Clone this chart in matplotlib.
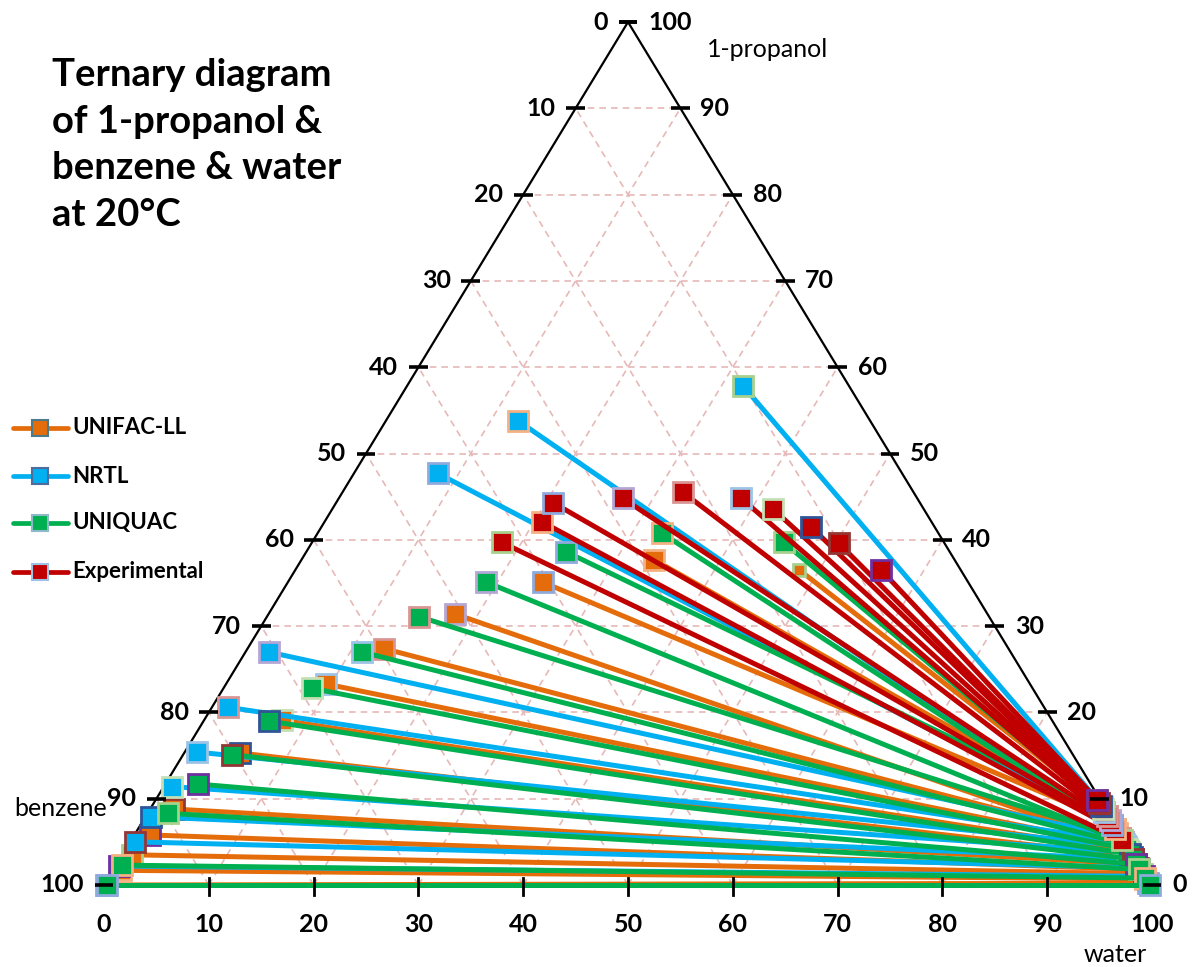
import numpy as np
import matplotlib.pyplot as plt
from matplotlib.lines import Line2D

plt.rcParams['font.family'] = ['Lato', 'DejaVu Sans']

###### Tie lines, mass %  (w = water, p = 1-propanol, benzene = 100 - w - p)
# phase 1 = benzene rich end, phase 2 = water rich end

# UNIFAC-LL
unifac_w1 = [48.1, 33.6, 24.3, 17.8, 13.0, 9.5, 7.4, 5.3, 2.3, 1.5, 0.9, 0.8, 0.2]
unifac_p1 = [36.5, 37.7, 35.1, 31.4, 27.4, 23.3, 19.1, 15.3, 8.8, 5.8, 3.5, 1.7, 0.0]
unifac_w2 = [90.4, 91.7, 92.3, 95.2, 94.7, 95.3, 95.8, 96.4, 97.3, 97.9, 98.4, 99.0, 99.5]
unifac_p2 = [9.3, 8.0, 7.4, 4.5, 5.0, 4.4, 3.9, 3.3, 2.4, 1.8, 1.3, 0.7, 0.2]

# NRTL
nrtl_w1 = [32.1, 12.6, 8.0, 2.2, 1.5, 1.2, 0.8, 0.5, 0.5, 0.3]
nrtl_p1 = [57.8, 53.8, 47.7, 27.0, 20.6, 15.4, 11.4, 7.9, 5.0, 2.2]
nrtl_w2 = [89.8, 93.7, 92.7, 94.2, 94.7, 95.2, 95.9, 96.7, 97.7, 98.7]
nrtl_p2 = [9.9, 6.0, 7.0, 5.5, 5.0, 4.5, 3.8, 3.0, 2.0, 1.0]

# UNIQUAC
uniquac_w1 = [45.0, 32.8, 24.8, 18.9, 14.5, 11.1, 8.4, 6.2, 4.7, 3.1, 2.0, 0.6, 0.3]
uniquac_p1 = [39.7, 40.8, 38.6, 35.1, 31.1, 27.0, 22.8, 19.0, 15.1, 11.7, 8.3, 2.3, 0.0]
uniquac_w2 = [90.7, 93.2, 91.2, 94.7, 94.2, 94.9, 95.5, 96.1, 96.7, 97.3, 97.9, 98.9, 99.8]
uniquac_p2 = [9.0, 6.5, 8.5, 5.0, 5.5, 4.8, 4.2, 3.6, 3.0, 2.4, 1.8, 0.8, 0.0]

# Experimental
exp_w1 = [18.1, 20.7, 20.7, 27.1, 32.5, 38.4, 42.0, 46.7, 50.3, 55.9]
exp_p1 = [39.7, 42.1, 44.3, 44.8, 45.5, 44.8, 43.6, 41.5, 39.6, 36.5]
exp_w2 = [94.5, 93.2, 92.7, 92.2, 91.7, 91.2, 90.9, 90.5, 90.2, 89.8]
exp_p2 = [5.2, 6.5, 7.0, 7.5, 8.0, 8.5, 8.8, 9.2, 9.5, 9.9]

series = [
    ("UNIFAC-LL", unifac_w1, unifac_p1, unifac_w2, unifac_p2, "#E46C0A", "#4A7A8C"),
    ("NRTL", nrtl_w1, nrtl_p1, nrtl_w2, nrtl_p2, "#00B0F0", "#4F6D9A"),
    ("UNIQUAC", uniquac_w1, uniquac_p1, uniquac_w2, uniquac_p2, "#00B050", "#8FB8C8"),
    ("Experimental", exp_w1, exp_p1, exp_w2, exp_p2, "#C00000", "#9DC3E6"),
]

ticks = list(range(0, 101, 10))

# Excel gives every point its own border colour
edge_cycle = ['#A9D18E', '#F4B183', '#8FAADC', '#B4A7D6', '#D99694',
              '#9DC3E6', '#C5E0B4', '#2F5597', '#943634', '#7030A0']


def xy(w, p):
    # ternary -> cartesian (x along base, y = propanol)
    w = np.asarray(w, dtype=float)
    p = np.asarray(p, dtype=float)
    return w + p / 2, p


fig = plt.figure(figsize=(11.93, 9.67), dpi=100)
ax = fig.add_axes([0, 0, 1, 1])
ax.set_xlim(-9.924, 103.91)
ax.set_ylim(-9.502, 102.55)
ax.axis('off')

# grid
grid_kw = dict(color='#E6B9B8', lw=1.2, dashes=(4, 3), zorder=1)
for k in ticks[1:-1]:
    ax.plot([k / 2, 100 - k / 2], [k, k], **grid_kw)
    x0, y0 = xy(k, 0)
    x1, y1 = xy(k, 100 - k)
    ax.plot([x0, x1], [y0, y1], **grid_kw)
    x0, y0 = xy(100 - k, 0)
    x1, y1 = xy(0, 100 - k)
    ax.plot([x0, x1], [y0, y1], **grid_kw)

# triangle
ax.plot([0, 50, 100, 0], [0, 100, 0, 0], color='black', lw=1.6, zorder=2)

# ticks + labels
px_x = 10.48  # pixels per x unit
px_y = 8.63
lab = dict(fontsize=18, fontweight='bold', color='black')
for k in ticks:
    # left side: benzene (0 at top)
    p = 100 - k
    xl, yl = xy(0, p)
    ax.plot([xl - 0.9, xl + 0.9], [yl, yl], color='black', lw=2.6, zorder=6,
            solid_capstyle='butt')
    ax.text(xl - 20 / px_x, yl, str(k), ha='right', va='center', **lab)
    # right side: 1-propanol
    xr, yr = xy(100 - k, k)
    ax.plot([xr - 0.9, xr + 0.9], [yr, yr], color='black', lw=2.6, zorder=6,
            solid_capstyle='butt')
    ax.text(xr + 20 / px_x, yr, str(k), ha='left', va='center', **lab)
    # bottom: water
    if 0 < k < 100:
        ax.plot([k, k], [0.8, -1.2], color='black', lw=2, zorder=6)
    ax.text(k, -40 / px_y, str(k), ha='center', va='center', **lab)

# tie lines
for name, w1, p1, w2, p2, col, _ in series:
    x1, y1 = xy(w1, p1)
    x2, y2 = xy(w2, p2)
    for i in range(len(x1)):
        ec = edge_cycle[i % len(edge_cycle)]
        ms = 14
        if name == "UNIFAC-LL" and i == 0:
            ms = 9  # this one is drawn smaller in the original
        ax.plot([x2[i], x1[i]], [y2[i], y1[i]], color=col, lw=3.6,
                marker='s', markersize=ms, markerfacecolor=col,
                markeredgecolor=ec, markeredgewidth=2, zorder=4,
                clip_on=False)

# axis names
ax.text(63.3, 96.8, '1-propanol', ha='center', va='center', fontsize=18)
ax.text(-4.1, 8.9, 'benzene', ha='center', va='center', fontsize=18)
ax.text(96.5, -8.1, 'water', ha='center', va='center', fontsize=18)

# title
ax.text(-4.96, 95.8, 'Ternary diagram\nof 1-propanol &\nbenzene & water\nat 20°C',
        ha='left', va='top', fontsize=27.5, fontweight='bold', linespacing=1.45)

# legend drawn by hand
leg_y = [52.96, 47.39, 41.95, 36.27]
for (name, *_, col, ec), ly in zip(series, leg_y):
    ax.add_line(Line2D([-8.68, -3.44], [ly, ly], color=col, lw=3.4,
                       solid_capstyle='round', clip_on=False))
    ax.plot([-6.1], [ly], marker='s', markersize=12, markerfacecolor=col,
            markeredgecolor=ec, markeredgewidth=1.5, clip_on=False)
    ax.text(-3.05, ly, name, ha='left', va='center', fontsize=16,
            fontweight='bold')

fig.savefig('out.png', dpi=100)
